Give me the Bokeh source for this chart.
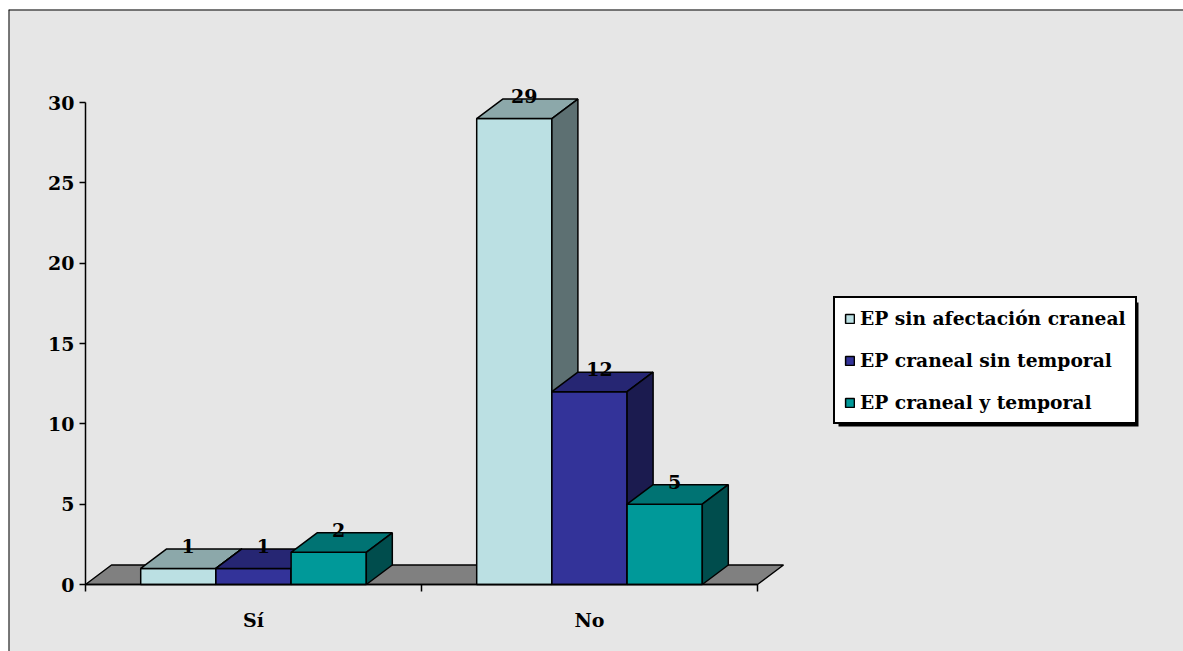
from bokeh.plotting import figure
from bokeh.models import (LinearAxis, FixedTicker, Range1d, Legend, LegendItem,
                          Span, BoxAnnotation, ColumnDataSource)
from bokeh.core.properties import value
from bokeh.embed import file_html
from bokeh.resources import INLINE

# ---- data -------------------------------------------------------------
categories = ["Sí", "No"]
series_names = ["EP sin afectación craneal", "EP craneal sin temporal", "EP craneal y temporal"]
sin_afectacion_craneal = [1, 29]
craneal_sin_temporal = [1, 12]
craneal_y_temporal = [2, 5]
y_ticks = [0, 5, 10, 15, 20, 25, 30]

series_values = [sin_afectacion_craneal, craneal_sin_temporal, craneal_y_temporal]

# ---- style ------------------------------------------------------------
front_colors = ["#BBE0E3", "#333399", "#009999"]
top_colors = ["#8CA8AA", "#262673", "#007373"]
side_colors = ["#5D7072", "#1B1B4F", "#004D4D"]
floor_color = "#808080"
FONT = "DejaVu Serif"
FONT_SIZE = "19px"
LEGEND_FONT_SIZE = "18.7px"

W, H = 1183, 651
AX_LEFT, AX_RIGHT = 85, 757      # category axis ends (px)
AX_BOTTOM, AX_TOP = 584, 102     # value axis 0 and 30 (px)
FRAME_L, FRAME_T = 8, 9          # chart border

px_per_cat = (AX_RIGHT - AX_LEFT) / len(categories)
px_per_unit = (AX_BOTTOM - AX_TOP) / y_ticks[-1]

x_start = (FRAME_L - AX_LEFT) / px_per_cat
x_end = (W - AX_LEFT) / px_per_cat
y_start = (AX_BOTTOM - H) / px_per_unit
y_end = (AX_BOTTOM - FRAME_T) / px_per_unit

bar_w = 75.2 / px_per_cat
depth_x = 26 / px_per_cat
depth_y = 19.5 / px_per_unit
label_lift = 3 / px_per_unit


def data_x(px):
    return (px - AX_LEFT) / px_per_cat


def data_y(px):
    return (AX_BOTTOM - px) / px_per_unit


p = figure(width=W, height=H, output_backend="svg", toolbar_location=None,
           title=None, x_range=Range1d(x_start, x_end), y_range=Range1d(y_start, y_end),
           x_axis_type=None, y_axis_type=None,
           min_border_left=FRAME_L, min_border_top=FRAME_T,
           min_border_right=0, min_border_bottom=0,
           background_fill_color="#E6E6E6", border_fill_color="white",
           outline_line_color=None)

# chart border (left and top edges)
p.add_layout(Span(location=x_start, dimension="height", line_color="black", line_width=2))
p.add_layout(Span(location=y_end, dimension="width", line_color="black", line_width=2))

# floor of the 3-D plot
n_cat = len(categories)
p.patch(x=[0, n_cat, n_cat + depth_x, depth_x], y=[0, 0, depth_y, depth_y],
        fill_color=floor_color, line_color="black", line_width=1.5)

# bars, drawn left to right so each face overlaps the one before it
front_renderers = {i: [] for i in range(len(series_names))}
lab_x, lab_y, lab_t = [], [], []
for c in range(n_cat):
    center = c + 0.5
    for s, vals in enumerate(series_values):
        v = vals[c]
        left = center + (s - len(series_values) / 2) * bar_w
        right = left + bar_w
        r = p.quad(left=[left], right=[right], bottom=[0], top=[v],
                   fill_color=front_colors[s], line_color="black", line_width=1.5)
        front_renderers[s].append(r)
        p.patch(x=[left, right, right + depth_x, left + depth_x],
                y=[v, v, v + depth_y, v + depth_y],
                fill_color=top_colors[s], line_color="black", line_width=1.5)
        p.patch(x=[right, right + depth_x, right + depth_x, right],
                y=[0, depth_y, v + depth_y, v],
                fill_color=side_colors[s], line_color="black", line_width=1.5)
        lab_x.append(center + (s - 1) * bar_w + depth_x * 0.38)
        lab_y.append(v + depth_y + label_lift)
        lab_t.append(str(v))

p.text(x="x", y="y", text="t", source=ColumnDataSource(dict(x=lab_x, y=lab_y, t=lab_t)),
       text_font=value(FONT), text_font_style="bold", text_font_size=FONT_SIZE,
       text_align="center", text_baseline="middle", text_color="black")

# value axis
yaxis = LinearAxis(fixed_location=0, bounds=(0, y_ticks[-1]),
                   ticker=FixedTicker(ticks=y_ticks, minor_ticks=[]))
yaxis.axis_line_color = "black"
yaxis.axis_line_width = 1.5
yaxis.major_tick_line_color = "black"
yaxis.major_tick_line_width = 1.5
yaxis.major_tick_out = 6
yaxis.major_tick_in = 0
yaxis.minor_tick_line_color = None
yaxis.major_label_standoff = 5
yaxis.major_label_text_font = FONT
yaxis.major_label_text_font_style = "bold"
yaxis.major_label_text_font_size = FONT_SIZE
yaxis.major_label_text_color = "black"
p.add_layout(yaxis, "left")

# category axis: boundary ticks as minor ticks, names at the centres
cat_centers = [c + 0.5 for c in range(n_cat)]
xaxis = LinearAxis(fixed_location=0, bounds=(0, n_cat),
                   ticker=FixedTicker(ticks=cat_centers, minor_ticks=list(range(n_cat + 1))))
xaxis.major_label_overrides = {cc: name for cc, name in zip(cat_centers, categories)}
xaxis.axis_line_color = "black"
xaxis.axis_line_width = 1.5
xaxis.major_tick_line_color = None
xaxis.major_tick_out = 0
xaxis.major_tick_in = 0
xaxis.minor_tick_line_color = "black"
xaxis.minor_tick_line_width = 1.5
xaxis.minor_tick_out = 7
xaxis.minor_tick_in = 0
xaxis.major_label_standoff = 17
xaxis.major_label_text_font = FONT
xaxis.major_label_text_font_style = "bold"
xaxis.major_label_text_font_size = FONT_SIZE
xaxis.major_label_text_color = "black"
p.add_layout(xaxis, "below")

# legend with a drop shadow
LEG_L, LEG_T, LEG_R, LEG_B = 833, 297, 1133, 421
SHADOW = 5
p.add_layout(BoxAnnotation(left=data_x(LEG_L + SHADOW), right=data_x(LEG_R + SHADOW),
                           top=data_y(LEG_T + SHADOW), bottom=data_y(LEG_B + SHADOW),
                           fill_color="black", fill_alpha=1, line_color=None))
legend = Legend(
    items=[LegendItem(label=name, renderers=[front_renderers[s][0]])
           for s, name in enumerate(series_names)],
    location=(LEG_L - FRAME_L, H - LEG_B - 3),
    border_line_color="black", border_line_width=2, border_line_alpha=1,
    background_fill_color="white", background_fill_alpha=1,
    padding=9, spacing=20, margin=0,
    glyph_width=11, glyph_height=11, label_height=22, label_width=266,
    label_standoff=5,
    label_text_font=FONT, label_text_font_style="bold",
    label_text_font_size=LEGEND_FONT_SIZE, label_text_color="black",
)
p.add_layout(legend)

open("out.html", "w").write(file_html(p, INLINE))
